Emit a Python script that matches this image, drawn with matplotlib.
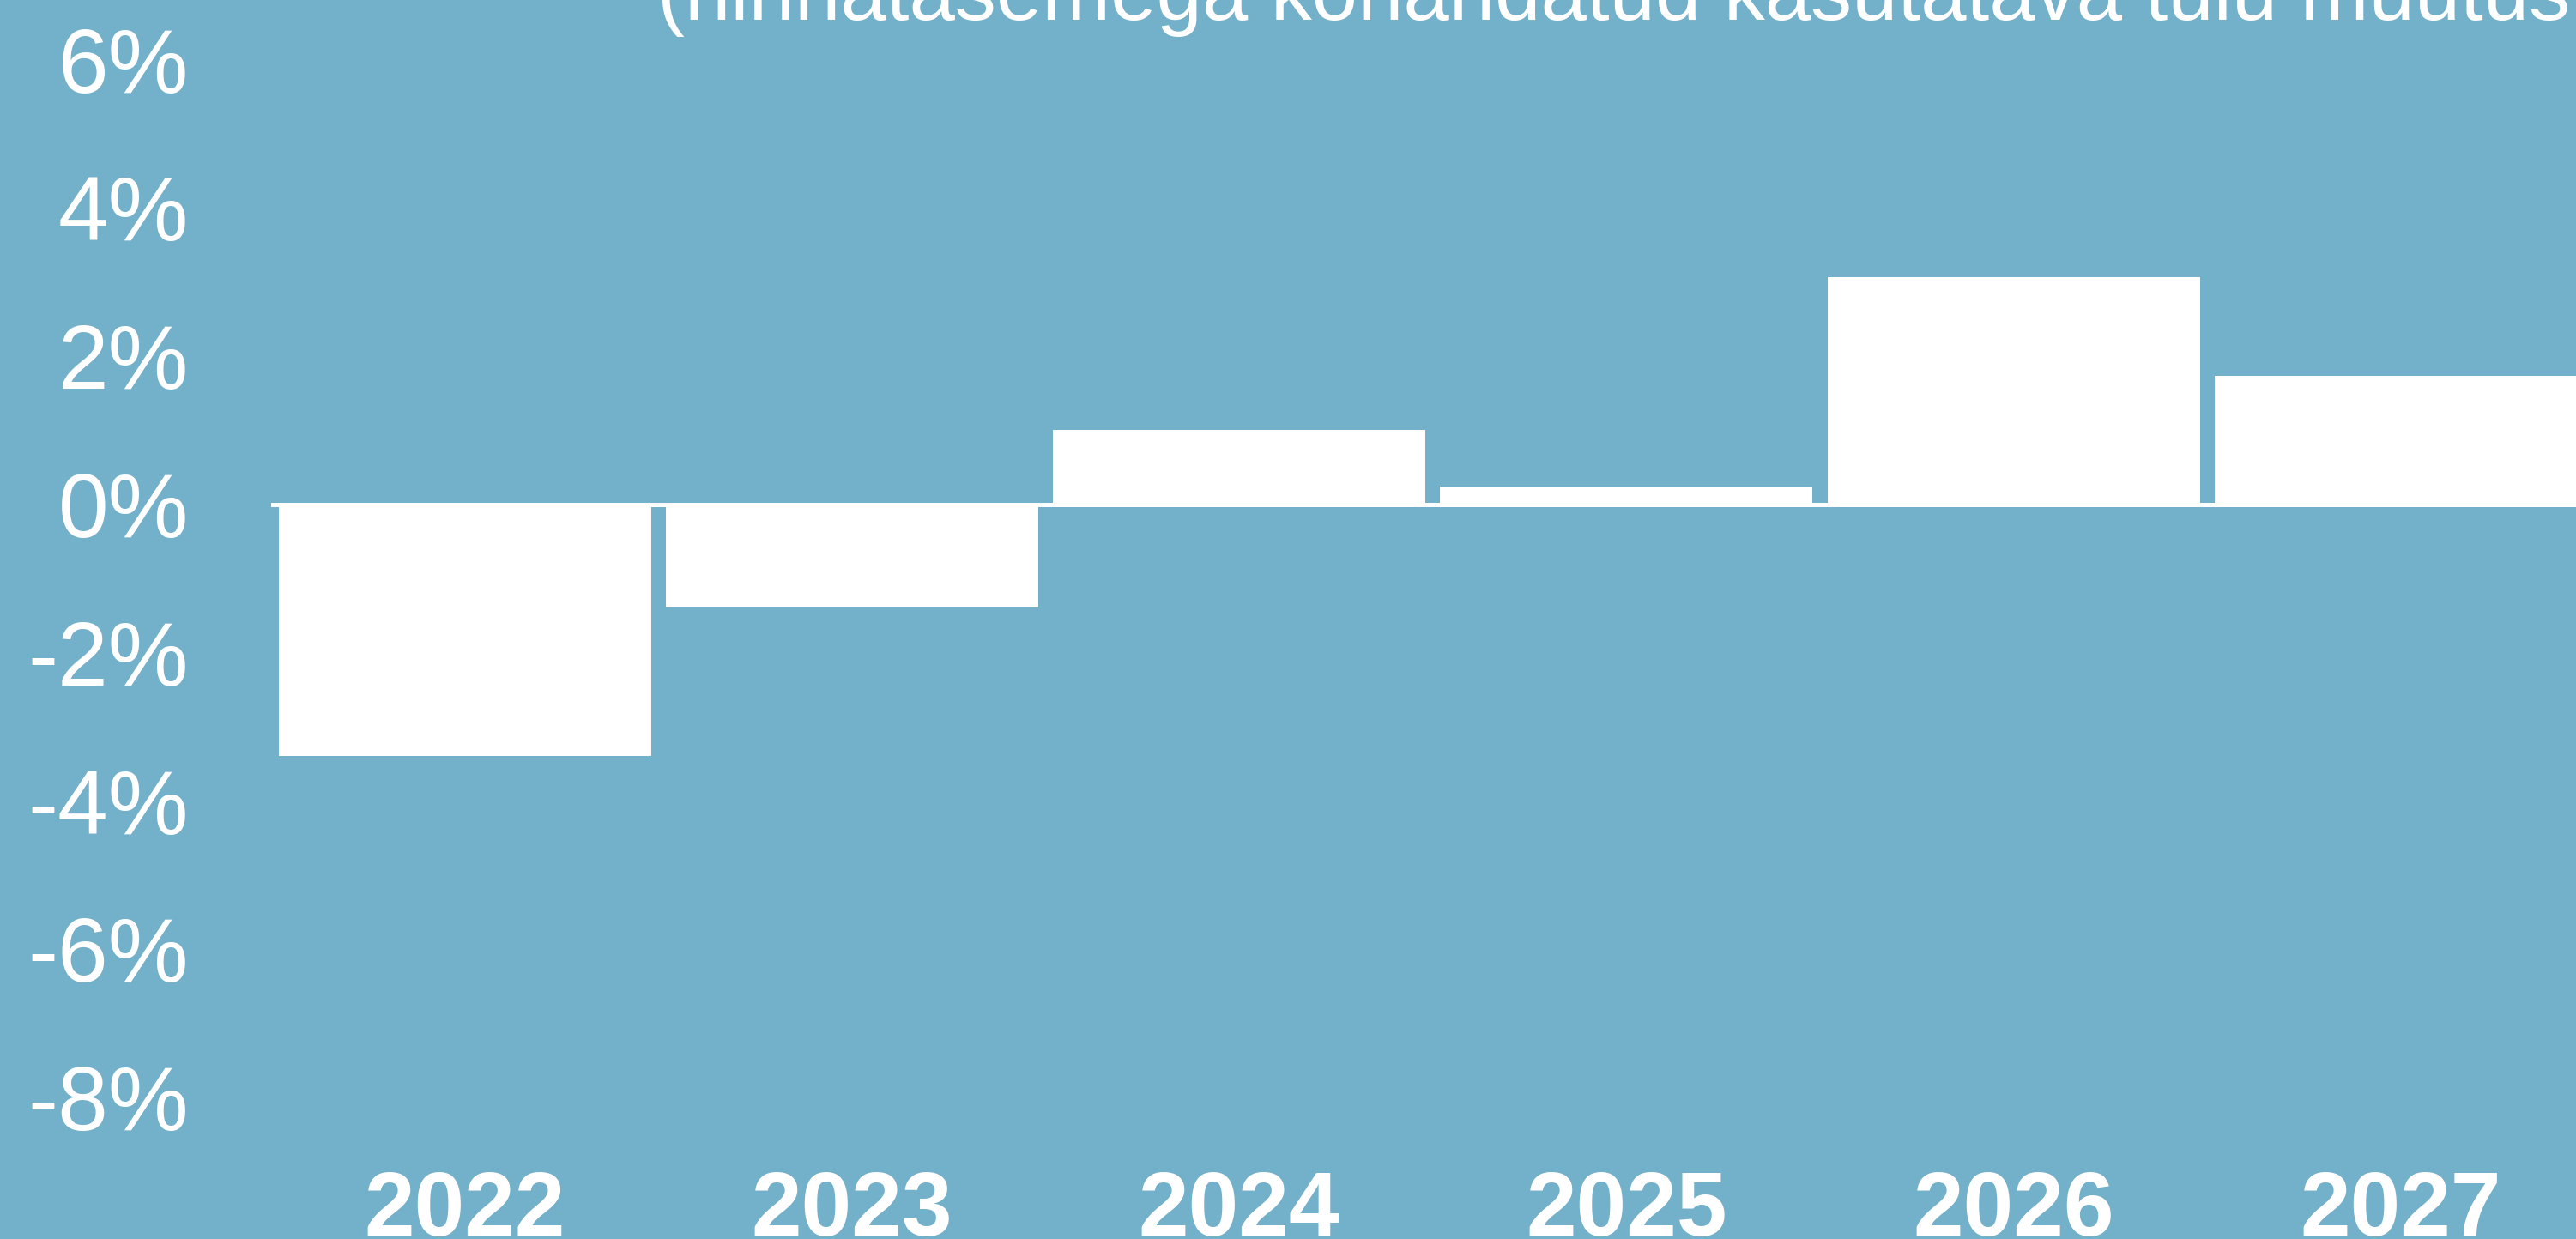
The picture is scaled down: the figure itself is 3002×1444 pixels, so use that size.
import matplotlib
matplotlib.use("Agg")
import matplotlib.pyplot as plt
from matplotlib.ticker import FixedLocator, FixedFormatter

# ---- data ----
years = ["2022", "2023", "2024", "2025", "2026", "2027"]
values = [-3.4, -1.4, 1.0, 0.24, 3.06, 1.73]
ytick_values = [6, 4, 2, 0, -2, -4, -6, -8]
ytick_labels = ["6%", "4%", "2%", "0%", "-2%", "-4%", "-6%", "-8%"]
title_line = "(hinnatasemega kohandatud kasutatava tulu muutus"

BG = "#73B0C9"
W, H = 3002, 1444
DPI = 100

plt.rcParams["font.family"] = ["Liberation Sans", "DejaVu Sans"]

fig = plt.figure(figsize=(W / DPI, H / DPI), dpi=DPI, facecolor=BG)

# axes geometry in pixels
left_px = 316
pitch_px = 451.25
zero_px = 587.5          # from top
px_per_unit = 86.4

ax = fig.add_axes([left_px / W, 0.0, 6 * pitch_px / W, 1.0])
ax.set_facecolor(BG)
x = list(range(len(years)))
ax.bar(x, values, width=0.962, color="white", edgecolor="none", zorder=2)
ax.axhline(0, color="white", linewidth=3.6, zorder=3)

ax.set_xlim(-0.5, 5.5)
ax.set_ylim(-(H - zero_px) / px_per_unit, zero_px / px_per_unit)

ax.yaxis.set_major_locator(FixedLocator(ytick_values))
ax.yaxis.set_major_formatter(FixedFormatter(ytick_labels))
ax.set_xticks(x)
ax.set_xticklabels(years, fontweight="bold")

ax.tick_params(axis="y", length=0, pad=69, labelsize=76, labelcolor="white")
ax.tick_params(axis="x", length=0, pad=-58, labelsize=76, labelcolor="white")
for s in ax.spines.values():
    s.set_visible(False)
ax.grid(False)

fig.text(766 / W, 1 - 22.7 / H, title_line, color="white", fontsize=69,
         ha="left", va="baseline")

fig.savefig("out.png", dpi=DPI, facecolor=BG)
